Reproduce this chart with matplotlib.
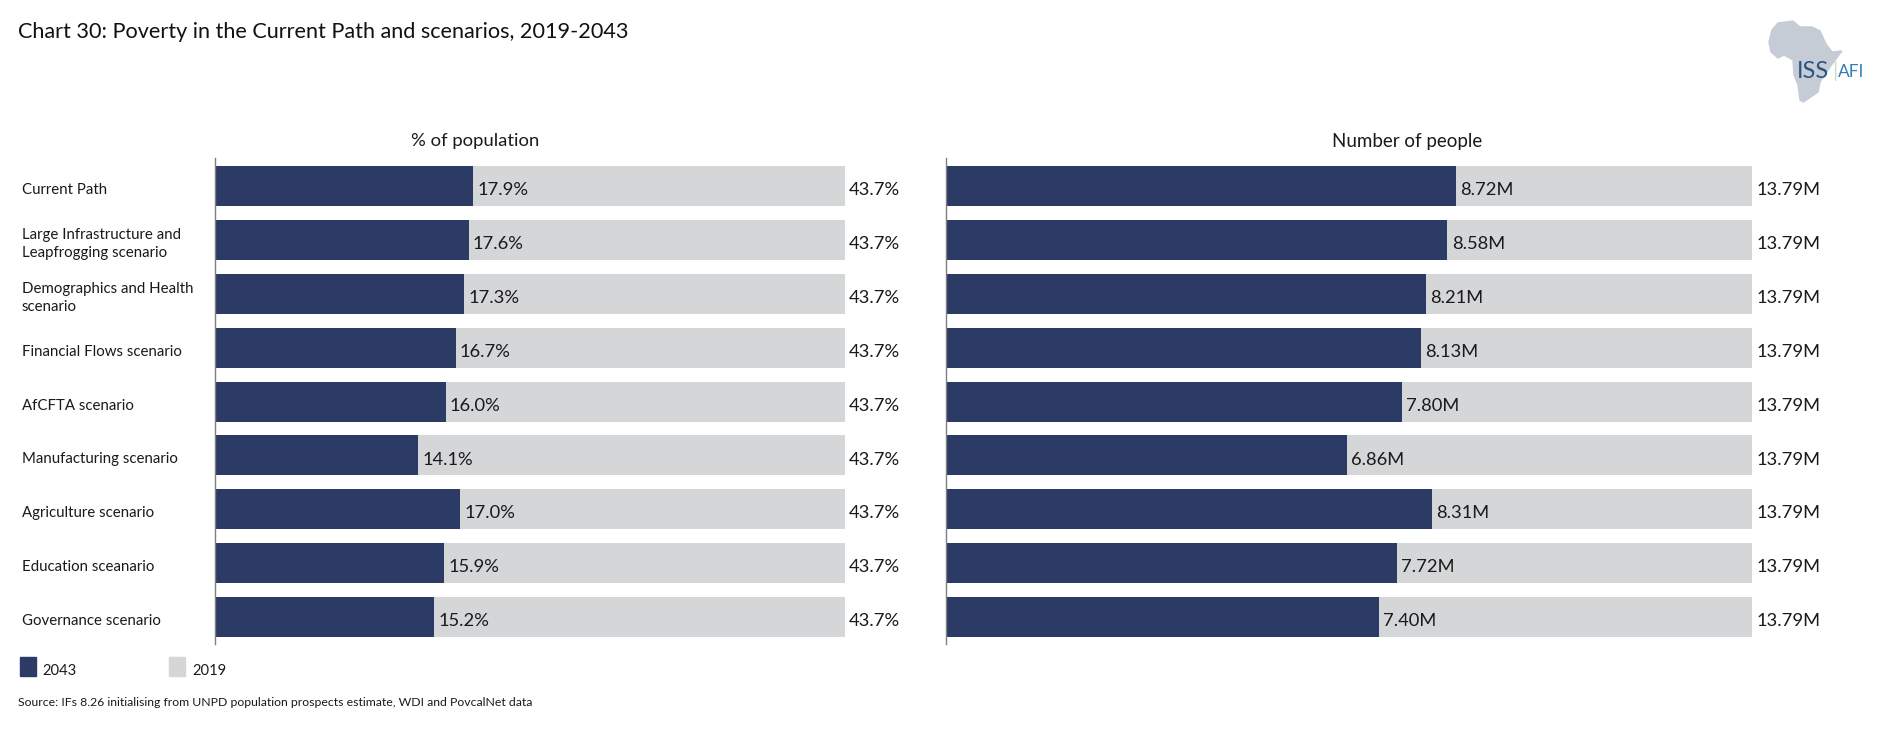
import matplotlib
matplotlib.use("Agg")
import matplotlib.pyplot as plt
from matplotlib.patches import Polygon, Rectangle

plt.rcParams['font.family'] = ['Lato', 'DejaVu Sans']

W = 1880
H = 739

scenarios = ['Current Path', 'Large Infrastructure and\nLeapfrogging scenario',
             'Demographics and Health\nscenario', 'Financial Flows scenario',
             'AfCFTA scenario', 'Manufacturing scenario', 'Agriculture scenario',
             'Education sceanario', 'Governance scenario']
pct_2043 = [17.9, 17.6, 17.3, 16.7, 16.0, 14.1, 17.0, 15.9, 15.2]
pct_2019 = [43.7, 43.7, 43.7, 43.7, 43.7, 43.7, 43.7, 43.7, 43.7]
people_2043 = [8.72, 8.58, 8.21, 8.13, 7.80, 6.86, 8.31, 7.72, 7.40]
people_2019 = [13.79, 13.79, 13.79, 13.79, 13.79, 13.79, 13.79, 13.79, 13.79]

NAVY = '#2c3a66'
GREY = '#d5d6d8'
TXT = '#1a1a1a'


def px_axes(fig, x0, x1, y0, y1):
    # pixel box from top left -> figure fraction
    return fig.add_axes([x0 / W, 1 - y1 / H, (x1 - x0) / W, (y1 - y0) / H])


def draw_panel(ax, recent, base, fmt):
    y = list(range(len(recent)))
    ax.barh(y, base, height=0.742, color=GREY)
    ax.barh(y, recent, height=0.742, color=NAVY)
    ax.set_xlim(0, base[0])
    ax.set_ylim(8.5, -0.52)
    for s in ['top', 'right', 'bottom']:
        ax.spines[s].set_visible(False)
    ax.spines['left'].set_color('#7f7f7f')
    ax.spines['left'].set_linewidth(1)
    ax.set_xticks([])
    ax.set_yticks([])
    ax.patch.set_alpha(0)
    for i in y:
        ax.annotate(fmt.format(recent[i]), (recent[i], i), xytext=(3, -3),
                    textcoords='offset points', va='center', ha='left',
                    fontsize=13.2, color=TXT)
        ax.annotate(fmt.format(base[i]), (base[i], i), xytext=(3, -3),
                    textcoords='offset points', va='center', ha='left',
                    fontsize=13.2, color=TXT)


fig = plt.figure(figsize=(W / 100, H / 100), dpi=100)

ax1 = px_axes(fig, 215, 845, 158, 644)
draw_panel(ax1, pct_2043, pct_2019, '{:.1f}%')
ax2 = px_axes(fig, 946, 1752, 158, 644)
draw_panel(ax2, people_2043, people_2019, '{:.2f}M')

fig.text(475 / W, 1 - 141 / H, '% of population', fontsize=13.3, color=TXT, va='center', ha='center')
fig.text(1407 / W, 1 - 141 / H, 'Number of people', fontsize=13.5, color=TXT, va='center', ha='center')

for i, name in enumerate(scenarios):
    ax1.annotate(name, (0, i), xycoords=('axes fraction', 'data'), xytext=(-193, -4),
                 textcoords='offset pixels', va='center', ha='left',
                 fontsize=10.8, color=TXT, linespacing=1.32)

fig.text(18 / W, 1 - 32 / H, 'Chart 30: Poverty in the Current Path and scenarios, 2019-2043',
         fontsize=15.6, color='#111111', va='center', ha='left')

# legend
fig.patches.append(Rectangle((20 / W, 1 - 676 / H), 16 / W, 19 / H, color=NAVY, transform=fig.transFigure))
fig.patches.append(Rectangle((169 / W, 1 - 676 / H), 16 / W, 19 / H, color=GREY, transform=fig.transFigure))
fig.text(42 / W, 1 - 671 / H, '2043', fontsize=10.6, color=TXT, va='center', ha='left')
fig.text(192 / W, 1 - 671 / H, '2019', fontsize=10.6, color=TXT, va='center', ha='left')

fig.text(18 / W, 1 - 702 / H, 'Source: IFs 8.26 initialising from UNPD population prospects estimate, WDI and PovcalNet data',
         fontsize=8.8, color=TXT, va='center', ha='left')

# logo
africa = [(1778, 23), (1793, 21), (1800, 27), (1812, 27), (1820, 31), (1826, 44), (1832, 52), (1842, 51),
          (1835, 60), (1828, 70), (1820, 82), (1818, 92), (1805, 101), (1803, 102), (1800, 100), (1798, 85),
          (1794, 75), (1793, 60), (1784, 55), (1778, 58), (1771, 52), (1769, 42), (1772, 30)]
fig.patches.append(Polygon([(x / W, 1 - y / H) for x, y in africa], closed=True, color='#c6ccd5',
                           transform=fig.transFigure))
fig.text(1797 / W, 1 - 71 / H, 'ISS', fontsize=17, color='#2a5580', va='center', ha='left')
fig.text(1832 / W, 1 - 71 / H, '|', fontsize=15, color='#c9dcd0', va='center', ha='left')
fig.text(1838 / W, 1 - 72 / H, 'AFI', fontsize=12.5, color='#2f7fb5', va='center', ha='left')

fig.savefig('out.png', dpi=100)
